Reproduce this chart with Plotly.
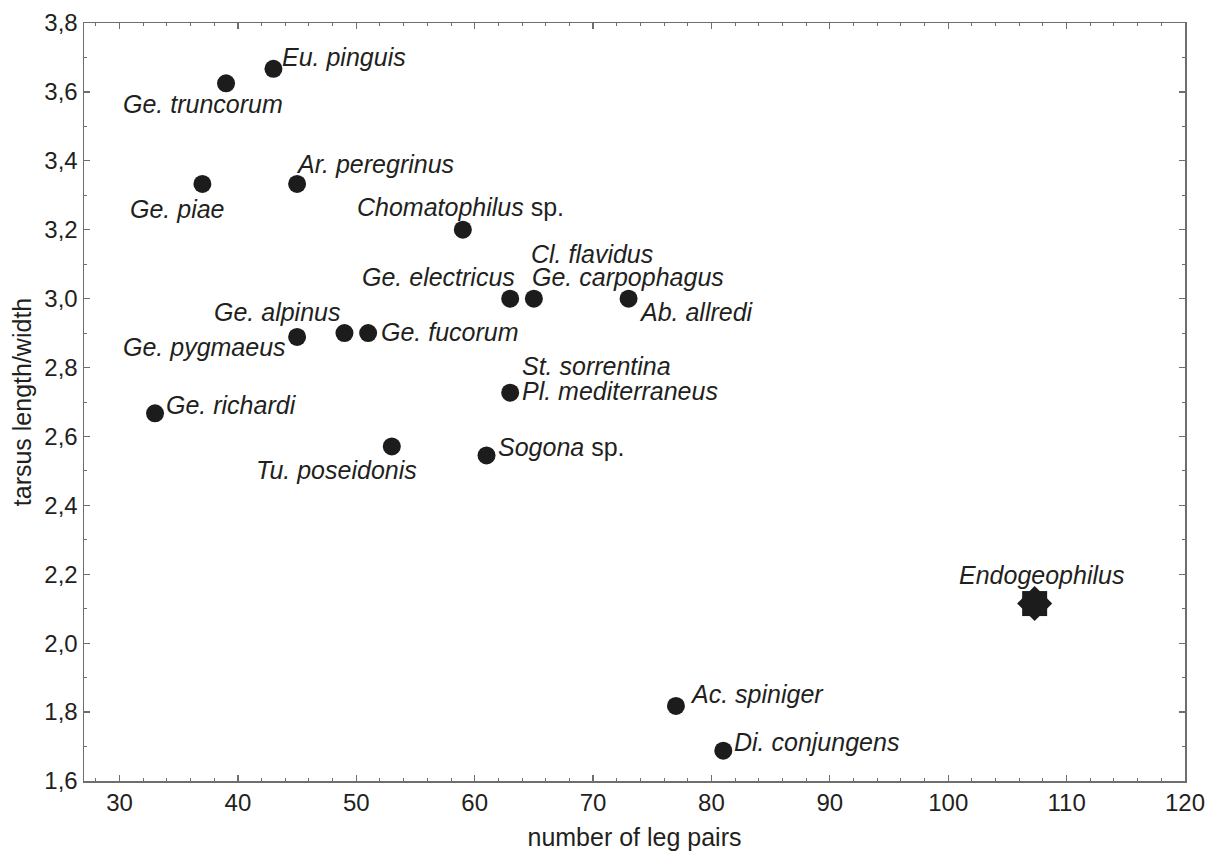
import plotly.graph_objects as go

# ---- data ----
species = ["Eu. pinguis", "Ge. truncorum", "Ge. piae", "Ar. peregrinus", "Chomatophilus",
           "Ge. electricus", "Ge. carpophagus", "Ab. allredi", "Ge. alpinus", "Ge. fucorum",
           "Ge. pygmaeus", "Ge. richardi", "Pl. mediterraneus", "Tu. poseidonis", "Sogona",
           "Ac. spiniger", "Di. conjungens"]
leg_pairs = [43, 39, 37, 45, 59, 63, 65, 73, 49, 51, 45, 33, 63, 53, 61, 77, 81]
tarsus_ratio = [3.667, 3.625, 3.333, 3.333, 3.2, 3.0, 3.0, 3.0, 2.9, 2.9,
                2.889, 2.667, 2.727, 2.571, 2.545, 1.818, 1.688]
sp_suffix = [False, False, False, False, True, False, False, False, False, False,
             False, False, False, False, True, False, False]

# extra labels sharing a point with another species
extra_names = ["Cl. flavidus", "St. sorrentina"]
extra_x = [65, 63]
extra_y = [3.0, 2.727]

endo_name = "Endogeophilus"
endo_x = [107.3]
endo_y = [2.115]

x_ticks = [30, 40, 50, 60, 70, 80, 90, 100, 110, 120]
y_ticks = [1.6, 1.8, 2.0, 2.2, 2.4, 2.6, 2.8, 3.0, 3.2, 3.4, 3.6, 3.8]

# ---- label placement (pixel offsets from point: anchor, dx, dy-down) ----
label_pos = [("left", 8, -12), ("right", 58, 21), ("right", 24, 25), ("left", -2, -20),
             ("left", -107, -23), ("right", 6, -22), ("left", -3, -22), ("left", 9, 13),
             ("right", -3, -21), ("left", 12, -1), ("right", -10, 10), ("left", 10, -8),
             ("left", 11, -2), ("right", 26, 24), ("left", 10, -8), ("left", 13, -12),
             ("left", 10, -9)]
extra_pos = [("left", -4, -45), ("left", 11, -27)]
endo_pos = ("center", 7, -29)

TXT = "#231f20"
AX = "#6e6e6e"
FONT = "Liberation Sans, Arial, sans-serif"
MK = "#1c1c1c"

fig = go.Figure()
fig.add_trace(go.Scatter(x=leg_pairs, y=tarsus_ratio, mode="markers",
                         marker=dict(symbol="circle", size=18, color=MK, line=dict(width=0)),
                         showlegend=False, hoverinfo="skip"))
fig.add_trace(go.Scatter(x=endo_x, y=endo_y, mode="markers",
                         marker=dict(symbol="square", size=25, color=MK, line=dict(width=0)),
                         showlegend=False, hoverinfo="skip"))
fig.add_trace(go.Scatter(x=endo_x, y=endo_y, mode="markers",
                         marker=dict(symbol="diamond", size=27, color=MK, line=dict(width=0)),
                         showlegend=False, hoverinfo="skip"))

def add_label(text, x, y, pos):
    anchor, dx, dy = pos
    fig.add_annotation(x=x, y=y, xref="x", yref="y", text=text, showarrow=False,
                       xanchor=anchor, yanchor="middle", xshift=dx, yshift=-dy, borderpad=0,
                       font=dict(family=FONT, size=25, color=TXT))

for name, x, y, sp, pos in zip(species, leg_pairs, tarsus_ratio, sp_suffix, label_pos):
    txt = f"<i>{name}</i>" + (" sp." if sp else "")
    add_label(txt, x, y, pos)
for name, x, y, pos in zip(extra_names, extra_x, extra_y, extra_pos):
    add_label(f"<i>{name}</i>", x, y, pos)
add_label(f"<i>{endo_name}</i>", endo_x[0], endo_y[0], endo_pos)

axis_common = dict(showgrid=False, zeroline=False, showline=True, linecolor=AX, linewidth=1.5,
                   mirror="ticks", ticks="inside", ticklen=6, tickwidth=1.2, tickcolor=AX,
                   automargin=False,
                   tickfont=dict(family=FONT, size=24, color=TXT))

fig.update_layout(
    width=1215, height=851,
    margin=dict(l=84, r=30, t=23, b=70),
    paper_bgcolor="white", plot_bgcolor="white",
    separators=",.",
    xaxis=dict(range=[27, 120], tickvals=x_ticks, ticktext=[str(v) for v in x_ticks],
               minor=dict(dtick=2, tick0=0, ticks="inside", ticklen=3, tickcolor=AX, tickwidth=1),
               title=dict(text="number of leg pairs", font=dict(family=FONT, size=25, color=TXT),
                          standoff=14),
               **axis_common),
    yaxis=dict(range=[1.6, 3.8], tickvals=y_ticks, tickformat=".1f",
               minor=dict(dtick=0.1, tick0=0, ticks="inside", ticklen=3, tickcolor=AX, tickwidth=1),
               title=dict(text="tarsus length/width", font=dict(family=FONT, size=25, color=TXT),
                          standoff=5),
               **axis_common),
)

fig.write_html("out.html", config={"displayModeBar": False, "staticPlot": True},
               post_script="document.body.style.margin='0';document.body.style.overflow='hidden';")
